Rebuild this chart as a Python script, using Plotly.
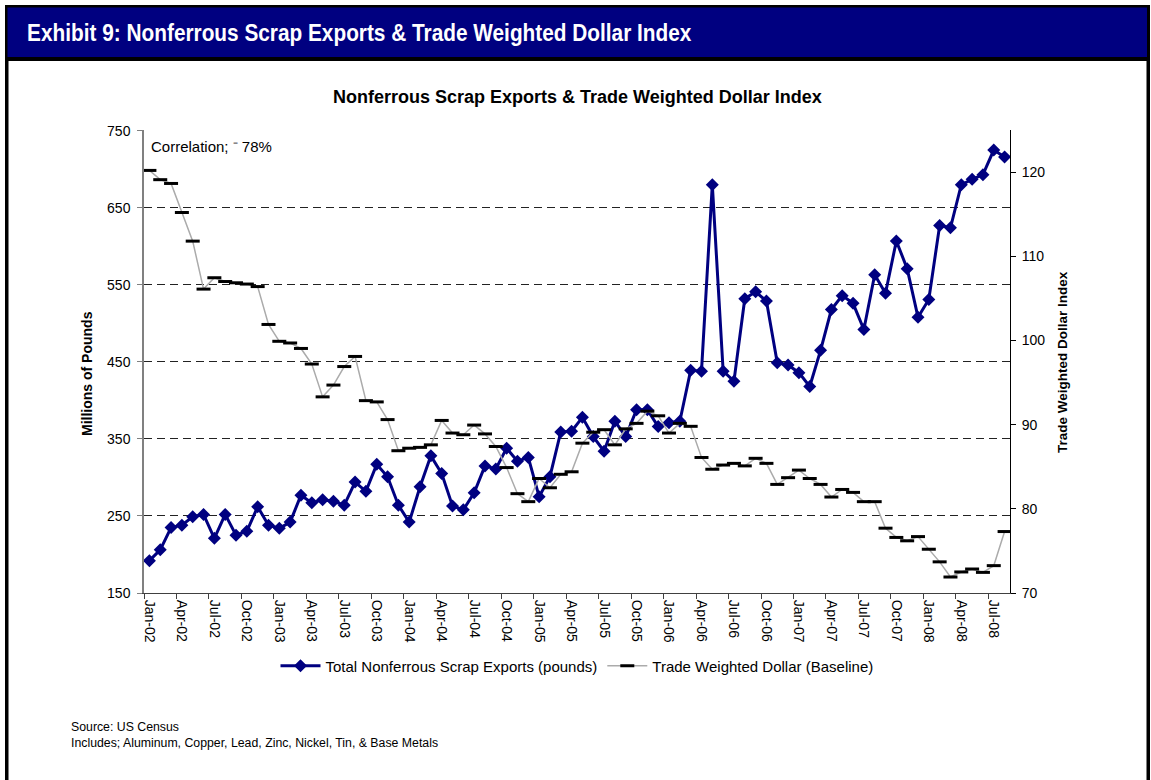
import plotly.graph_objects as go

# ---- data ----
months = [
    "Jan-02","Feb-02","Mar-02","Apr-02","May-02","Jun-02","Jul-02","Aug-02","Sep-02","Oct-02","Nov-02","Dec-02",
    "Jan-03","Feb-03","Mar-03","Apr-03","May-03","Jun-03","Jul-03","Aug-03","Sep-03","Oct-03","Nov-03","Dec-03",
    "Jan-04","Feb-04","Mar-04","Apr-04","May-04","Jun-04","Jul-04","Aug-04","Sep-04","Oct-04","Nov-04","Dec-04",
    "Jan-05","Feb-05","Mar-05","Apr-05","May-05","Jun-05","Jul-05","Aug-05","Sep-05","Oct-05","Nov-05","Dec-05",
    "Jan-06","Feb-06","Mar-06","Apr-06","May-06","Jun-06","Jul-06","Aug-06","Sep-06","Oct-06","Nov-06","Dec-06",
    "Jan-07","Feb-07","Mar-07","Apr-07","May-07","Jun-07","Jul-07","Aug-07","Sep-07","Oct-07","Nov-07","Dec-07",
    "Jan-08","Feb-08","Mar-08","Apr-08","May-08","Jun-08","Jul-08","Aug-08",
]

scrap_exports = [
    192, 206, 235, 238, 249, 252, 221, 252, 225, 230, 262, 238,
    234, 242, 277, 267, 271, 269, 264, 294, 282, 317, 301, 264,
    242, 288, 328, 305, 263, 258, 280, 315, 311, 338, 321, 326,
    275, 301, 359, 360, 378, 353, 334, 373, 353, 388, 388, 366,
    371, 373, 439, 438, 680, 438, 425, 532, 541, 529, 449, 446,
    436, 418, 465, 518, 536, 526, 492, 563, 539, 607, 571, 508,
    531, 627, 624, 680, 687, 693, 725, 716,
]

dollar_index = [
    120.2, 119.1, 118.65, 115.2, 111.8, 106.1, 107.45, 107.0, 106.85, 106.7, 106.4, 101.9,
    99.9, 99.7, 99.05, 97.2, 93.3, 94.7, 96.9, 98.1, 92.85, 92.7, 90.6, 86.9,
    87.2, 87.3, 87.6, 90.5, 89.0, 88.8, 89.95, 88.9, 87.4, 84.9, 81.8, 80.85,
    83.6, 82.5, 84.1, 84.4, 87.8, 89.1, 89.4, 87.6, 89.5, 90.15, 91.6, 91.05,
    89.0, 90.15, 89.8, 86.1, 84.7, 85.2, 85.4, 85.1, 86.0, 85.4, 82.9, 83.7,
    84.6, 83.6, 82.9, 81.4, 82.3, 81.95, 80.85, 80.85, 77.7, 76.6, 76.2, 76.7,
    75.2, 73.7, 71.9, 72.5, 72.85, 72.45, 73.25, 77.3,
]

left_ticks = [150, 250, 350, 450, 550, 650, 750]
right_ticks = [70, 80, 90, 100, 110, 120]

# ---- geometry helpers (pixel -> paper) ----
W, H = 1151, 780
ML, MR, MT, MB = 144, 141, 130, 187
PW = W - ML - MR
PH = H - MT - MB


def px(x):
    return (x - ML) / PW


def py(y):
    return (H - MB - y) / PH


FONT = "Liberation Sans, Arial, sans-serif"
NAVY = "#000080"

fig = go.Figure()

fig.add_trace(go.Scatter(
    x=months, y=scrap_exports, name="Total Nonferrous Scrap Exports (pounds)",
    mode="lines+markers",
    line=dict(color=NAVY, width=3),
    marker=dict(symbol="diamond", size=10, color=NAVY),
    yaxis="y",
))

fig.add_trace(go.Scatter(
    x=months, y=dollar_index, name="Trade Weighted Dollar (Baseline)",
    mode="lines+markers",
    line=dict(color="#ababab", width=1.5),
    marker=dict(symbol="line-ew", size=10, color="black",
                line=dict(color="black", width=3)),
    yaxis="y2",
))

shapes = [
    # banner
    dict(type="rect", xref="paper", yref="paper", x0=px(5), x1=px(1150), y0=py(5), y1=py(61),
         fillcolor="black", line=dict(width=0), layer="above"),
    dict(type="rect", xref="paper", yref="paper", x0=px(7.5), x1=px(1147), y0=py(7.5), y1=py(57),
         fillcolor=NAVY, line=dict(width=0), layer="above"),
    # side borders
    dict(type="rect", xref="paper", yref="paper", x0=px(5), x1=px(8.5), y0=py(57), y1=py(780),
         fillcolor="black", line=dict(width=0), layer="above"),
    dict(type="rect", xref="paper", yref="paper", x0=px(1146.5), x1=px(1150), y0=py(57), y1=py(780),
         fillcolor="black", line=dict(width=0), layer="above"),
]

annotations = [
    dict(text="<b>Exhibit 9: Nonferrous Scrap Exports &amp; Trade Weighted Dollar Index</b>",
         x=px(25), y=py(32), xref="paper", yref="paper", xanchor="left", yanchor="middle",
         showarrow=False,
         font=dict(family=FONT, size=24, color="white")),
    dict(text="<b>Nonferrous Scrap Exports &amp; Trade Weighted Dollar Index</b>",
         x=px(577), y=py(97), xref="paper", yref="paper", xanchor="center", yanchor="middle",
         showarrow=False, font=dict(family=FONT, size=18, color="black")),
    dict(text="<b>Millions of Pounds</b>", x=px(87), y=py(374), xref="paper", yref="paper",
         xanchor="center", yanchor="middle", textangle=-90, showarrow=False,
         font=dict(family=FONT, size=14, color="black")),
    dict(text="<b>Trade Weighted Dollar Index</b>", x=px(1062), y=py(362), xref="paper", yref="paper",
         xanchor="center", yanchor="middle", textangle=-90, showarrow=False,
         font=dict(family=FONT, size=13.5, color="black")),
    dict(text="Correlation; \u207b 78%", x=px(149), y=py(146), xref="paper", yref="paper",
         xanchor="left", yanchor="middle", showarrow=False,
         font=dict(family=FONT, size=15, color="black")),
    dict(text="Source: US Census<br>Includes; Aluminum, Copper, Lead, Zinc, Nickel, Tin, &amp; Base Metals",
         x=px(69), y=py(735), xref="paper", yref="paper", xanchor="left", yanchor="middle",
         align="left", showarrow=False,
         font=dict(family=FONT, size=12.3, color="black")),
]

fig.update_layout(
    width=W, height=H,
    margin=dict(l=ML, r=MR, t=MT, b=MB, pad=0),
    paper_bgcolor="white", plot_bgcolor="white",
    font=dict(family=FONT, color="black"),
    showlegend=True,
    legend=dict(orientation="h", x=0.5, xanchor="center", y=py(666), yanchor="middle",
                font=dict(family=FONT, size=15, color="black"), bgcolor="rgba(0,0,0,0)",
                itemwidth=40),
    shapes=shapes,
    annotations=annotations,
    xaxis=dict(
        type="category", range=[-0.5, len(months) - 0.5],
        tickmode="linear", tick0=0, dtick=3, tickson="boundaries",
        ticks="outside", ticklen=5, tickcolor="#404040",
        tickangle=90, tickfont=dict(family=FONT, size=14, color="black"),
        ticklabelstandoff=3,
        showgrid=False, showline=True, linecolor="#404040", linewidth=1,
        zeroline=False, fixedrange=True,
    ),
    yaxis=dict(
        range=[150, 751], tickvals=left_ticks,
        ticks="outside", ticklen=5, tickcolor="#808080",
        tickfont=dict(family=FONT, size=14, color="black"),
        ticklabelstandoff=4,
        showgrid=True, gridcolor="#222222", gridwidth=1, griddash="8px,5px",
        showline=True, linecolor="#808080", linewidth=1.5,
        zeroline=False, fixedrange=True,
    ),
    yaxis2=dict(
        range=[70, 125], tickvals=right_ticks, overlaying="y", side="right",
        ticks="outside", ticklen=5, tickcolor="black",
        tickfont=dict(family=FONT, size=14, color="black"),
        ticklabelstandoff=3,
        showgrid=False, showline=True, linecolor="black", linewidth=1,
        zeroline=False, fixedrange=True,
    ),
)

post_js = """
document.body.style.margin = '0';
var nodes = document.querySelectorAll('text.annotation-text');
for (var i = 0; i < nodes.length; i++) {
  if (nodes[i].textContent.indexOf('Exhibit 9') === 0) {
    nodes[i].style.transformBox = 'fill-box';
    nodes[i].style.transformOrigin = '0% 50%';
    nodes[i].style.transform = 'scaleX(0.867)';
  }
}
"""

fig.write_html("out.html", post_script=post_js, config={"displayModeBar": False})
